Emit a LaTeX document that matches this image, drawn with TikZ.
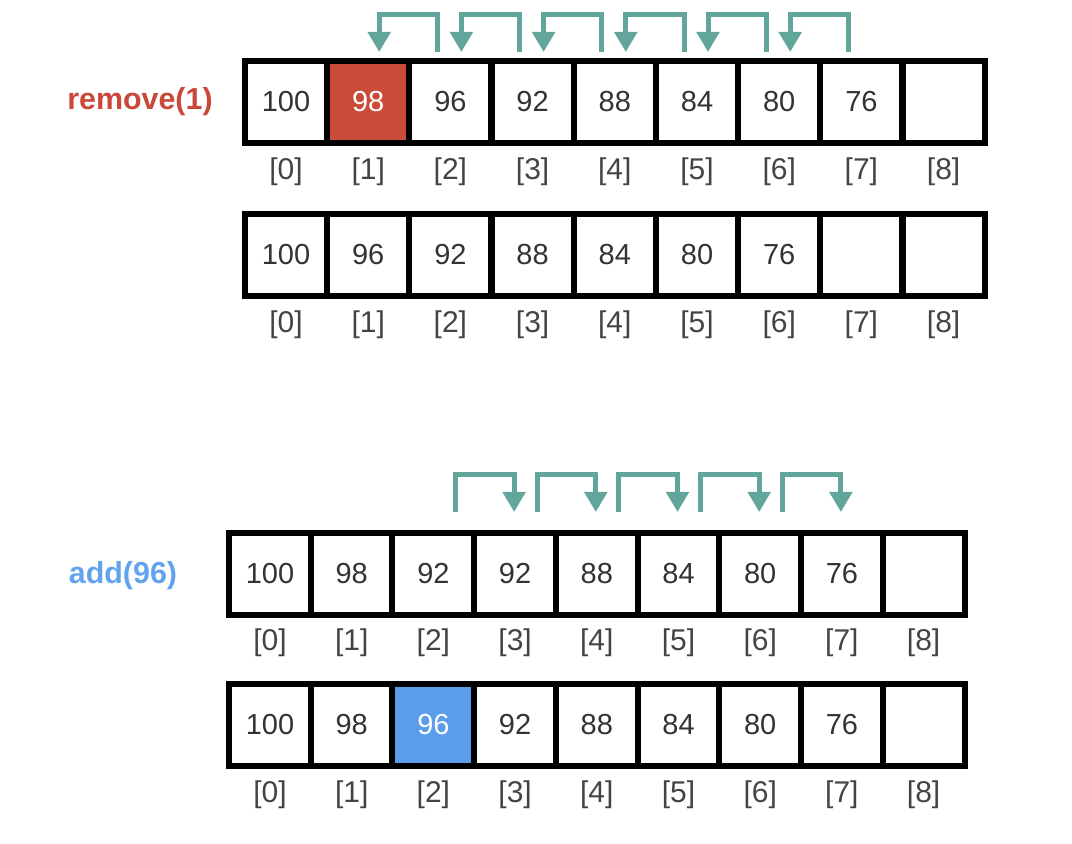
\documentclass[tikz,border=0pt]{standalone}
\usepackage{fontspec}
\setmainfont{Liberation Sans}
\usetikzlibrary{arrows.meta,calc}
\definecolor{cellred}{HTML}{CB4B39}
\definecolor{cellblue}{HTML}{5C9DEB}
\definecolor{labred}{HTML}{C9483A}
\definecolor{labblue}{HTML}{62A3F0}
\definecolor{flowteal}{HTML}{62A59B}
\definecolor{numgray}{HTML}{333333}
\definecolor{idxgray}{HTML}{444444}
\begin{document}
\begin{tikzpicture}[x=0.5pt,y=-0.5pt,
  cell/.style={draw=black,line width=3pt,fill=white,minimum width=41pt,minimum height=41pt,
    inner sep=0pt,outer sep=0pt,text=numgray,font=\fontsize{14.5}{17}\selectfont},
  hotred/.style={fill=cellred,text=white},
  hotblue/.style={fill=cellblue,text=white},
  plain/.style={},
  idx/.style={inner sep=0pt,text=idxgray,font=\fontsize{15}{18}\selectfont},
  flow/.style={draw=flowteal,line width=2.5pt,-{Triangle[width=11pt,length=10pt]}},
  oplabel/.style={inner sep=0pt,font=\bfseries\fontsize{15.2}{18}\selectfont}]
\useasboundingbox (0,0) rectangle (1072,844);

% array 1 : before remove
\foreach \v/\s [count=\i from 0] in {100/plain,98/hotred,96/plain,92/plain,88/plain,84/plain,80/plain,76/plain,{}/plain} {
  \node[cell,\s] (a\i) at (286+82.2*\i,102) {\v};
  \node[idx] (ai\i) at (286+82.2*\i,172) {[\i]};
}
% array 2 : after remove
\foreach \v [count=\i from 0] in {100,96,92,88,84,80,76,{},{}} {
  \node[cell] (b\i) at (286+82.2*\i,255) {\v};
  \node[idx] (bi\i) at (286+82.2*\i,325) {[\i]};
}
% array 3 : before add
\foreach \v [count=\i from 0] in {100,98,92,92,88,84,80,76,{}} {
  \node[cell] (c\i) at (270+81.7*\i,574) {\v};
  \node[idx] (ci\i) at (270+81.7*\i,643) {[\i]};
}
% array 4 : after add
\foreach \v/\s [count=\i from 0] in {100/plain,98/plain,96/hotblue,92/plain,88/plain,84/plain,80/plain,76/plain,{}/plain} {
  \node[cell,\s] (d\i) at (270+81.7*\i,725) {\v};
  \node[idx] (di\i) at (270+81.7*\i,795) {[\i]};
}

% labels
\node[oplabel,text=labred] (rm) at (140,102) {remove(1)};
\node[oplabel,text=labblue] (ad) at (123,576) {add(96)};

% shift-left arrows (remove)
\foreach \k/\n in {1/2,2/3,3/4,4/5,5/6,6/7}
  \draw[flow] ($(a\n.north)+(-13,-9)$) -- ++(0,-37) -| ($(a\k.north)+(11,-9)$);

% shift-right arrows (add)
\foreach \k/\n in {2/3,3/4,4/5,5/6,6/7}
  \draw[flow] ($(c\k.north)+(22,-21)$) -- ++(0,-37) -| ($(c\n.north)+(-1,-21)$);
\end{tikzpicture}
\end{document}
